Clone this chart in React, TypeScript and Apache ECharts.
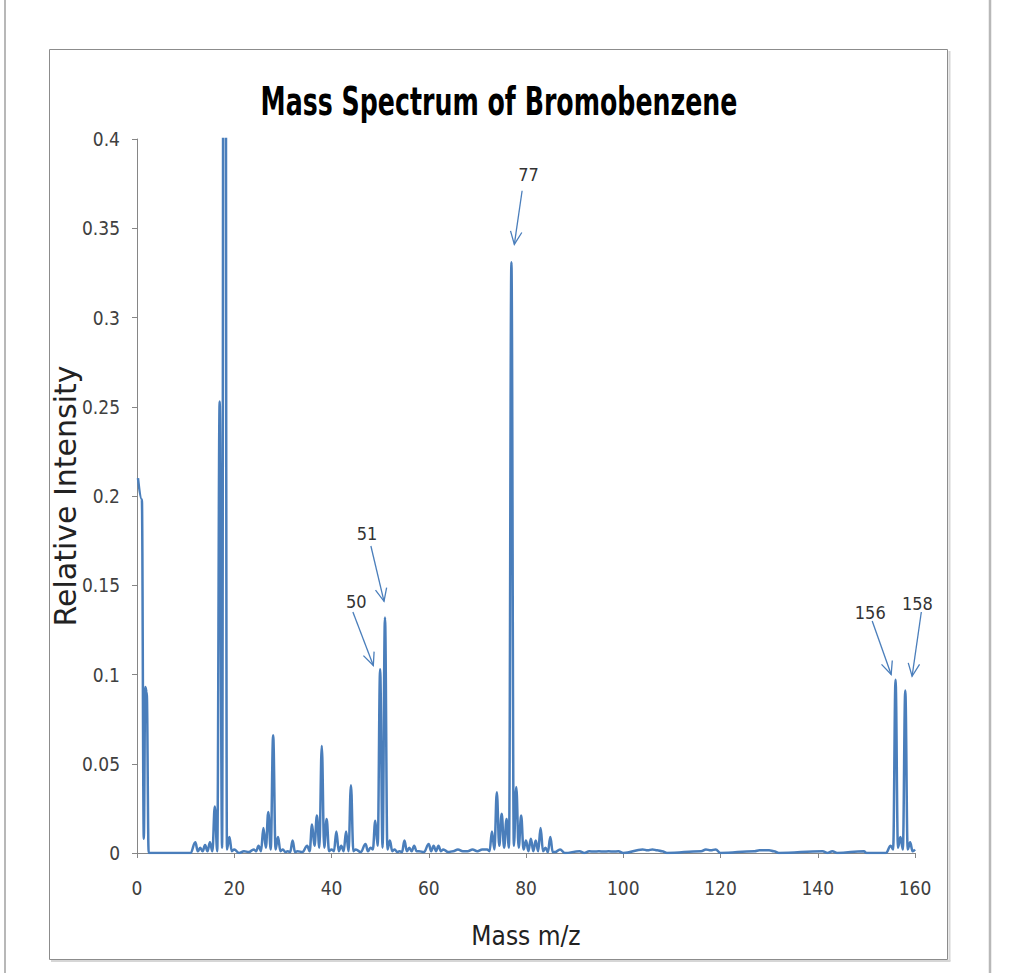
import React, { useEffect, useRef } from "react";
import * as echarts from "echarts";

// ---- data (m/z, relative intensity) ----
const massToCharge = [
  0.2, 1.0, 1.4, 1.7, 2.0, 2.4,
  11, 12, 12.5, 13, 13.5, 14, 14.5, 15, 15.5, 16, 16.5, 17, 17.5, 18, 18.5, 19, 19.5, 20,
  21, 22, 23, 24, 24.5, 25, 25.5, 26, 26.5, 27, 27.5, 28, 28.5, 29, 29.5, 30, 30.5, 31, 31.5,
  32, 32.5, 33, 34, 35, 35.5, 36, 36.5, 37, 37.5, 38, 38.5, 39, 39.5, 40, 40.5, 41, 41.5,
  42, 42.5, 43, 43.5, 44, 44.5, 45, 46, 47, 47.5, 48, 48.5, 49, 49.5, 50, 50.5, 51, 51.5,
  52, 52.5, 53, 53.5, 54, 54.5, 55, 55.5, 56, 56.5, 57, 57.5, 58, 59, 60, 60.5, 61, 61.5,
  62, 62.5, 63, 64, 65, 66, 67, 68, 69, 70, 71, 72, 72.5, 73, 73.5, 74, 74.5, 75, 75.5,
  76, 76.5, 77, 77.5, 78, 78.5, 79, 79.5, 80, 80.5, 81, 81.5, 82, 82.5, 83, 83.5, 84, 84.5,
  85, 85.5, 86, 87, 88, 91, 92, 93, 94, 95, 96, 97, 98, 99, 100, 104, 105, 106, 107, 108,
  109, 116, 117, 118, 119, 120, 127, 128, 129, 130, 131, 132, 141, 142, 143, 144, 149.5,
  150, 154, 155, 155.5, 156, 156.5, 157, 157.5, 158, 158.5, 159, 159.5, 160,
];
const relativeIntensity = [
  0.21, 0.198, 0.008, 0.093, 0.09, 0,
  0, 0.006, 0.001, 0.003, 0.001, 0.0045, 0.001, 0.006, 0.001, 0.026, 0.001, 0.253, 0.003, 1.2, 0.002, 0.009, 0.001, 0.002,
  0, 0.001, 0.0005, 0.002, 0.001, 0.004, 0.001, 0.014, 0.003, 0.023, 0.002, 0.066, 0.002, 0.009, 0.001, 0.002, 0.0005, 0.001, 0.0005,
  0.007, 0.0005, 0.001, 0.0005, 0.004, 0.001, 0.016, 0.004, 0.021, 0.003, 0.06, 0.003, 0.019, 0.001, 0.002, 0.001, 0.012, 0.001,
  0.004, 0.001, 0.012, 0.001, 0.038, 0.001, 0.002, 0.0005, 0.005, 0.001, 0.003, 0.002, 0.018, 0.004, 0.103, 0.003, 0.132, 0.002,
  0.007, 0.001, 0.002, 0.0005, 0.001, 0.0005, 0.007, 0.001, 0.003, 0.001, 0.004, 0.001, 0.001, 0.0005, 0.005, 0.001, 0.004, 0.001,
  0.004, 0.001, 0.002, 0.0005, 0.001, 0.002, 0.001, 0.001, 0.002, 0.001, 0.002, 0.002, 0.001, 0.012, 0.002, 0.034, 0.004, 0.022, 0.003,
  0.019, 0.003, 0.331, 0.004, 0.037, 0.003, 0.021, 0.002, 0.007, 0.001, 0.008, 0.001, 0.007, 0.001, 0.014, 0.001, 0.003, 0.0005,
  0.009, 0.0005, 0.0005, 0.002, 0, 0.001, 0, 0.001, 0.0008, 0.001, 0.0008, 0.001, 0.0008, 0.001, 0, 0.002, 0.0015, 0.002, 0.0015, 0.001,
  0, 0.001, 0.002, 0.0015, 0.002, 0, 0.001, 0.0015, 0.0015, 0.0015, 0.001, 0, 0.001, 0, 0.001, 0, 0.001,
  0, 0, 0.004, 0.002, 0.097, 0.003, 0.009, 0.002, 0.091, 0.002, 0.006, 0.001, 0.002,
];

// ---- annotations (data coordinates) ----
const annotationLabels = ["77", "51", "50", "156", "158"];
const annotationTextPos = [[80.5, 0.38], [47.3, 0.179], [45.1, 0.141], [150.8, 0.135], [160.5, 0.14]];
const annotationArrowFrom = [[79.2, 0.371], [48.1, 0.172], [44.4, 0.135], [151.2, 0.13], [161.3, 0.135]];
const annotationArrowTo = [[77.6, 0.341], [50.8, 0.141], [48.6, 0.105], [155.1, 0.1], [159.4, 0.099]];

const BLUE = "#4A7EBB";
const NARROW = '"Liberation Sans Narrow", "DejaVu Sans Condensed", "Arial Narrow", sans-serif';
const AXIS_GRAY = "#868686";
const TEXT_DARK = "#404040";

export default function App() {
  const ref = useRef<HTMLDivElement>(null);

  useEffect(() => {
    if (!ref.current) return;
    const chart = echarts.init(ref.current, null, { renderer: "svg" });

    const lineData = massToCharge.map((m, i) => [m, relativeIntensity[i]]);
    const annData = annotationLabels.map((_, i) => [
      annotationTextPos[i][0], annotationTextPos[i][1],
      annotationArrowFrom[i][0], annotationArrowFrom[i][1],
      annotationArrowTo[i][0], annotationArrowTo[i][1],
    ]);

    chart.setOption({
      animation: false,
      backgroundColor: "#ffffff",
      graphic: [
        { type: "line", shape: { x1: 5, y1: 0, x2: 5, y2: 973 }, style: { stroke: "#b8b8b8", lineWidth: 2 }, silent: true },
        { type: "line", shape: { x1: 990, y1: 0, x2: 990, y2: 973 }, style: { stroke: "#b8b8b8", lineWidth: 2.5 }, silent: true },
        { type: "rect", shape: { x: 49.5, y: 49.5, width: 898, height: 910 }, style: { stroke: "#8c8c8c", fill: "none", lineWidth: 1 }, silent: true },
        { type: "line", shape: { x1: 949.5, y1: 51, x2: 949.5, y2: 961 }, style: { stroke: "#d6d6d6", lineWidth: 2 }, silent: true },
        { type: "line", shape: { x1: 51, y1: 961, x2: 950.5, y2: 961 }, style: { stroke: "#d6d6d6", lineWidth: 2 }, silent: true },
        {
          type: "text",
          x: 499,
          y: 101,
          scaleX: 0.72,
          silent: true,
          style: {
            text: "Mass Spectrum of Bromobenzene",
            font: `bold 39px ${NARROW}`,
            fill: "#000000",
            align: "center",
            verticalAlign: "middle",
          },
        },
      ],
      grid: { left: 137, right: 109, top: 139, bottom: 120, containLabel: false },
      xAxis: {
        type: "value",
        min: 0,
        max: 160,
        interval: 20,
        name: "Mass m/z",
        nameLocation: "middle",
        nameGap: 70,
        nameTextStyle: { fontFamily: NARROW, fontSize: 26, color: "#222" },
        axisLine: { show: true, onZero: false, lineStyle: { color: AXIS_GRAY, width: 1 } },
        axisTick: { show: true, inside: false, length: 5, lineStyle: { color: AXIS_GRAY } },
        axisLabel: { fontFamily: NARROW, fontSize: 19, color: TEXT_DARK, margin: 25 },
        splitLine: { show: false },
      },
      yAxis: {
        type: "value",
        min: 0,
        max: 0.4,
        interval: 0.05,
        name: "Relative Intensity",
        nameLocation: "middle",
        nameRotate: 90,
        nameGap: 57,
        nameMoveOverlap: false,
        nameTextStyle: { fontFamily: '"DejaVu Sans", Verdana, sans-serif', fontSize: 30, color: "#222" },
        axisLine: { show: true, lineStyle: { color: AXIS_GRAY, width: 1 } },
        axisTick: { show: true, inside: false, length: 5, lineStyle: { color: AXIS_GRAY } },
        axisLabel: { fontFamily: NARROW, fontSize: 19, color: TEXT_DARK, margin: 17 },
        splitLine: { show: false },
      },
      series: [
        {
          type: "line",
          data: lineData,
          showSymbol: false,
          symbol: "none",
          smooth: 0.4,
          smoothMonotone: "x",
          clip: true,
          lineStyle: { color: BLUE, width: 2.5 },
          silent: true,
        },
        {
          type: "custom",
          data: annData,
          clip: false,
          silent: true,
          renderItem: (params: any, api: any) => {
            const i = params.dataIndex;
            const lp = api.coord([api.value(0), api.value(1)]);
            const s = api.coord([api.value(2), api.value(3)]);
            const e = api.coord([api.value(4), api.value(5)]);
            const ang = Math.atan2(e[1] - s[1], e[0] - s[0]);
            const L = 14;
            const spread = 0.42;
            const h1 = [e[0] - L * Math.cos(ang - spread), e[1] - L * Math.sin(ang - spread)];
            const h2 = [e[0] - L * Math.cos(ang + spread), e[1] - L * Math.sin(ang + spread)];
            return {
              type: "group",
              children: [
                { type: "line", shape: { x1: s[0], y1: s[1], x2: e[0], y2: e[1] }, style: { stroke: BLUE, lineWidth: 1.3 } },
                { type: "polyline", shape: { points: [h1, e, h2] }, style: { stroke: BLUE, lineWidth: 1.3, fill: "none" } },
                {
                  type: "text",
                  x: lp[0],
                  y: lp[1],
                  style: {
                    text: annotationLabels[i],
                    font: `18px ${NARROW}`,
                    fill: "#333333",
                    align: "center",
                    verticalAlign: "middle",
                  },
                },
              ],
            };
          },
        },
      ],
    });

    return () => chart.dispose();
  }, []);

  return <div ref={ref} style={{ position: "absolute", left: 0, top: 0, width: 1024, height: 973 }} />;
}
